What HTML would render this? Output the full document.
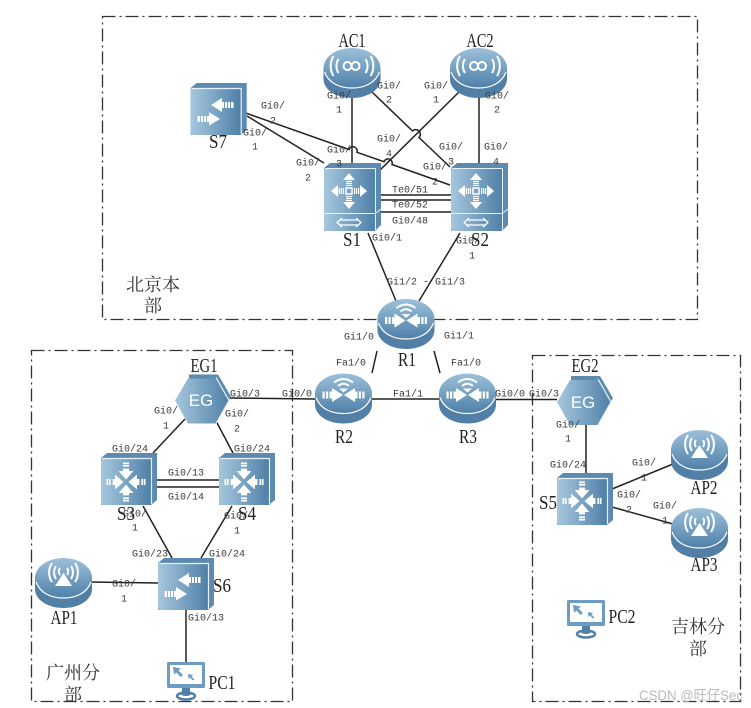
<!DOCTYPE html>
<html><head><meta charset="utf-8">
<style>
html,body{margin:0;padding:0;background:#fff;width:751px;height:708px;overflow:hidden}
svg{display:block;filter:blur(0.35px)}
.l{font-family:"Liberation Mono",monospace;font-size:10px;fill:#3a3a3a;text-anchor:middle}
.n{font-family:"Liberation Serif",serif;font-size:20px;fill:#222;text-anchor:middle}
.c{font-family:"Liberation Serif","Noto Serif CJK SC",serif;font-size:18px;fill:#333;text-anchor:middle}
.e{font-family:"Liberation Sans",sans-serif;font-size:17px;fill:#fff;text-anchor:middle}
.w{fill:none;stroke:#fff;stroke-width:2}
</style></head><body>
<svg width="751" height="708" viewBox="0 0 751 708" xmlns="http://www.w3.org/2000/svg">
<defs>
<linearGradient id="g" x1="0" x2="1" y1="0" y2="0"><stop offset="0" stop-color="#a6c7de"/><stop offset="1" stop-color="#4f80a8"/></linearGradient>
<linearGradient id="t" x1="0" x2="0" y1="0" y2="1"><stop offset="0" stop-color="#9cc0da"/><stop offset="1" stop-color="#4f80a8"/></linearGradient>
<g id="disc">
<path d="M0 19V31C0 42 13 50 28.500 50S57 42 57 31V19Z" fill="#527fa5"/>
<ellipse cx="28.500" cy="20" rx="28.500" ry="20" fill="url(#t)"/>
<path d="M1 24C5 35 16 40 28.500 40S52 35 56 24" fill="none" stroke="#fff" stroke-width="1.200"/>
</g>
<g id="sw">
<path d="M6 0H56V47L50 52H0V5Z" fill="#5c8ab0"/>
<rect x="0" y="5" width="50" height="47" rx="2" fill="url(#g)"/>
<path d="M1 5.500H50.500V51" fill="none" stroke="#e8f1f7" stroke-width="1.200"/>
</g>
<g id="arrows4" fill="#fff">
<path d="M0 0l-6 -7h3.500v-2h5v2h3.500z" transform="translate(0 -2)"/><rect x="-2.500" y="-16" width="5" height="1.400"/><rect x="-2.500" y="-14" width="5" height="1.400"/>
<path d="M0 0l-6 7h3.500v2h5v-2h3.500z" transform="translate(0 2)"/><rect x="-2.500" y="14.600" width="5" height="1.400"/><rect x="-2.500" y="12.600" width="5" height="1.400"/>
<path d="M0 0l-7 -6v3.500h-2v5h2v3.500z" transform="translate(-2 0)"/><rect x="-16" y="-2.500" width="1.400" height="5"/><rect x="-14" y="-2.500" width="1.400" height="5"/>
<path d="M0 0l7 -6v3.500h2v5h-2v3.500z" transform="translate(2 0)"/><rect x="14.600" y="-2.500" width="1.400" height="5"/><rect x="12.600" y="-2.500" width="1.400" height="5"/>
</g>
<g id="out1" fill="#fff">
<path d="M11 -6L18 0L11 6Z"/><rect x="9" y="-3" width="1.200" height="6"/><rect x="7" y="-3" width="1.200" height="6"/><rect x="5" y="-3" width="1.200" height="6"/>
</g>
<g id="out">
<use href="#out1"/>
<use href="#out1" transform="rotate(90)"/>
<use href="#out1" transform="rotate(180)"/>
<use href="#out1" transform="rotate(270)"/>
<rect x="-3" y="-3" width="6" height="6" fill="none" stroke="#fff" stroke-width="1.500"/>
</g>
<g id="arrows2" fill="#fff">
<path d="M-5 -6L6 -13V-9H8V-3H6V1Z"/><rect x="9" y="-9" width="2" height="6"/><rect x="12" y="-9" width="2" height="6"/><rect x="15" y="-9" width="2.500" height="6"/>
<path d="M4 8L-7 1V5H-9V11H-7V14.500Z"/><rect x="-12" y="5" width="2" height="6"/><rect x="-15" y="5" width="2" height="6"/><rect x="-18.500" y="5" width="2.500" height="6"/>
</g>
<g id="router">
<use href="#disc"/>
<g fill="#fff">
<path d="M28 21.500L17 14.500V18H14.500V25H17V28.500Z"/><rect x="11" y="18" width="2.200" height="7"/><rect x="7.500" y="18" width="2.200" height="7"/>
<path d="M29 21.500L40 14.500V18H42.500V25H40V28.500Z"/><rect x="43.800" y="18" width="2.200" height="7"/><rect x="47.300" y="18" width="2.200" height="7"/>
</g>
<path d="M19 9Q28.500 2 38 9M23 12.500Q28.500 8 34 12.500" class="w" stroke-width="1.500"/>
<path d="M24 15H33L28.500 19Z" fill="#fff"/>
</g>
<g id="ap">
<use href="#disc"/>
<path d="M28.500 15L37 28H20Z" fill="#fff"/>
<path d="M21 8A12 12 0 0 0 21 21M17 5A17 17 0 0 0 17 24M36 8A12 12 0 0 1 36 21M40 5A17 17 0 0 1 40 24M25 10A6 6 0 0 0 25 17M32 10A6 6 0 0 1 32 17" class="w" stroke-width="1.500"/>
</g>
<g id="ac">
<use href="#disc"/>
<path d="M20 18a4 4 0 0 1 8 0a4 4 0 0 0 8 0a4 4 0 0 0 -8 0a4 4 0 0 1 -8 0" class="w" stroke-width="2.500"/>
<path d="M15 11A13 13 0 0 0 15 25M10 8A19 19 0 0 0 10 28M42 11A13 13 0 0 1 42 25M47 8A19 19 0 0 1 47 28" class="w" stroke-width="1.800"/>
</g>
<g id="eg">
<path d="M14 0H43L56 22L43 44H14Z" fill="#5c8ab0"/>
<path d="M13 4H41L54 26L41 49H13L0 26Z" fill="url(#g)"/>
<path d="M41 3L54 26L41 49" fill="none" stroke="#e8f1f7" stroke-width="1.200"/>
</g>
<g id="pc">
<rect x="0" y="0" width="38" height="26" rx="1.500" fill="#6d9cc2"/>
<rect x="3" y="3" width="32" height="19" fill="#fff"/>
<path d="M6 5L14 6.500L11.500 8.500L16 13L13.500 15L9.500 10.500L7 12.500Z" fill="#6d9cc2"/>
<path d="M21 12L26 13L24.500 14.500L27.500 17.500L26 18.500L23 15.500L21.500 17Z" fill="#6d9cc2"/>
<path d="M15 26H23V31H15Z" fill="#527fa5"/>
<ellipse cx="19" cy="34" rx="9" ry="3.500" fill="none" stroke="#527fa5" stroke-width="2.500"/>
<ellipse cx="19" cy="32" rx="5" ry="2" fill="#527fa5"/>
</g>
</defs>

<g fill="none" stroke="#333" stroke-width="1.300" stroke-dasharray="13 4 2 4">
<rect x="102.500" y="16.500" width="595" height="303"/>
<rect x="31.500" y="350.500" width="261" height="351"/>
<rect x="532.500" y="355.500" width="208" height="346"/>
</g>

<g fill="none" stroke="#222" stroke-width="1.500">
<path d="M352 95V163M479 95V163"/>
<path d="M372 92L412.500 131A4 4 0 0 1 419 137.500L450 167"/>
<path d="M459 92L375 175"/>
<path d="M240 111L349 149.500A4 4 0 0 1 357 152.300L384 161.700A4 4 0 0 1 392 164.500L450 185"/>
<path d="M247 116L324 163"/>
<path d="M381 195H451M381 200H451M381 212H451"/>
<path d="M368 233L396 301M460 233L419 301"/>
<path d="M377 351L372 373M434 351L440 373"/>
<path d="M372 399H439M496 399.500H557M230 398L315 399"/>
<path d="M185 419L153 453M216 421L233 453"/>
<path d="M157 480H219M157 487H219"/>
<path d="M143 506L172 558M232 506L201 558"/>
<path d="M92 582L158 583M186 610V662"/>
<path d="M586 425V473M612 489L673 464M612 507L673 524"/>
</g>

<use href="#ac" x="323.500" y="48"/>
<use href="#ac" x="450" y="48"/>
<use href="#sw" x="190.700" y="83"/>
<use href="#arrows2" x="216" y="111"/>

<path d="M6 0H57V62L51 68H0V5Z" fill="#5c8ab0" transform="translate(324 163)"/>
<rect x="324" y="168" width="51" height="63" rx="2" fill="url(#g)"/>
<path d="M325 168.500H375.500V231M324 213.500H375L381 209" fill="none" stroke="#e8f1f7" stroke-width="1"/>
<use href="#out" x="349" y="191"/>
<path d="M339 220H359M339 225H359M342 218L337 222.500L342 227M356 218L361 222.500L356 227" fill="none" stroke="#fff" stroke-width="1.200"/>

<path d="M6 0H57V62L51 68H0V5Z" fill="#5c8ab0" transform="translate(451 163)"/>
<rect x="451" y="168" width="51" height="63" rx="2" fill="url(#g)"/>
<path d="M452 168.500H502.500V231M451 213.500H502L508 209" fill="none" stroke="#e8f1f7" stroke-width="1"/>
<use href="#out" x="476" y="191"/>
<path d="M466 220H486M466 225H486M469 218L464 222.500L469 227M483 218L488 222.500L483 227" fill="none" stroke="#fff" stroke-width="1.200"/>

<use href="#router" x="377.500" y="299"/>
<use href="#router" x="315" y="373.500"/>
<use href="#router" x="439" y="373.500"/>

<use href="#eg" x="175" y="374.500"/>
<text class="e" x="201" y="406">EG</text>
<use href="#eg" x="557" y="376"/>
<text class="e" x="583" y="408">EG</text>

<use href="#sw" x="101" y="453"/>
<use href="#arrows4" transform="translate(126 482) scale(1.220)"/>
<use href="#sw" x="219" y="453"/>
<use href="#arrows4" transform="translate(244 482) scale(1.220)"/>
<use href="#sw" x="158" y="558"/>
<use href="#arrows2" x="183" y="586"/>
<use href="#sw" x="557" y="473"/>
<use href="#arrows4" transform="translate(582 501) scale(1.220)"/>

<use href="#ap" x="35" y="558"/>
<use href="#ap" x="671" y="430"/>
<use href="#ap" x="671" y="508"/>
<use href="#pc" x="167" y="662"/>
<use href="#pc" x="567" y="600"/>

<text class="n" x="352" y="47" textLength="27" lengthAdjust="spacingAndGlyphs">AC1</text>
<text class="n" x="480" y="47" textLength="27" lengthAdjust="spacingAndGlyphs">AC2</text>
<text class="n" x="218" y="148" textLength="18" lengthAdjust="spacingAndGlyphs">S7</text>
<text class="n" x="352" y="246" textLength="18" lengthAdjust="spacingAndGlyphs">S1</text>
<text class="n" x="480" y="246" textLength="18" lengthAdjust="spacingAndGlyphs">S2</text>
<text class="n" x="407" y="366" textLength="18" lengthAdjust="spacingAndGlyphs">R1</text>
<text class="n" x="344" y="443" textLength="18" lengthAdjust="spacingAndGlyphs">R2</text>
<text class="n" x="468" y="443" textLength="18" lengthAdjust="spacingAndGlyphs">R3</text>
<text class="n" x="204" y="372" textLength="27" lengthAdjust="spacingAndGlyphs">EG1</text>
<text class="n" x="585" y="372" textLength="27" lengthAdjust="spacingAndGlyphs">EG2</text>
<text class="n" x="126" y="520" textLength="18" lengthAdjust="spacingAndGlyphs">S3</text>
<text class="n" x="247" y="520" textLength="18" lengthAdjust="spacingAndGlyphs">S4</text>
<text class="n" x="222" y="592" textLength="18" lengthAdjust="spacingAndGlyphs">S6</text>
<text class="n" x="548" y="509" textLength="18" lengthAdjust="spacingAndGlyphs">S5</text>
<text class="n" x="64" y="624" textLength="27" lengthAdjust="spacingAndGlyphs">AP1</text>
<text class="n" x="704" y="494" textLength="27" lengthAdjust="spacingAndGlyphs">AP2</text>
<text class="n" x="704" y="571" textLength="27" lengthAdjust="spacingAndGlyphs">AP3</text>
<text class="n" x="222" y="689" textLength="27" lengthAdjust="spacingAndGlyphs">PC1</text>
<text class="n" x="622" y="623" textLength="27" lengthAdjust="spacingAndGlyphs">PC2</text>

<text class="l" x="339" y="98.500">Gi0/</text><text class="l" x="339" y="112.500">1</text>
<text class="l" x="389" y="88.500">Gi0/</text><text class="l" x="389" y="102.500">2</text>
<text class="l" x="436" y="88.500">Gi0/</text><text class="l" x="436" y="102.500">1</text>
<text class="l" x="497" y="98.500">Gi0/</text><text class="l" x="497" y="112.500">2</text>
<text class="l" x="273" y="108.500">Gi0/</text><text class="l" x="273" y="123.500">2</text>
<text class="l" x="255" y="135.500">Gi0/</text><text class="l" x="255" y="149.500">1</text>
<text class="l" x="308" y="165.500">Gi0/</text><text class="l" x="308" y="180.500">2</text>
<text class="l" x="339" y="152.500">Gi0/</text><text class="l" x="339" y="166.500">3</text>
<text class="l" x="389" y="141.500">Gi0/</text><text class="l" x="389" y="156.500">4</text>
<text class="l" x="451" y="149.500">Gi0/</text><text class="l" x="451" y="164.500">3</text>
<text class="l" x="435" y="169.500">Gi0/</text><text class="l" x="435" y="184.500">2</text>
<text class="l" x="496" y="149.500">Gi0/</text><text class="l" x="496" y="164.500">4</text>
<text class="l" x="410" y="192.500">Te0/51</text>
<text class="l" x="410" y="207.500">Te0/52</text>
<text class="l" x="410" y="223.500">Gi0/48</text>
<text class="l" x="387" y="240.500">Gi0/1</text>
<text class="l" x="468" y="243.500">Gi0/</text><text class="l" x="472" y="258.500">1</text>
<text class="l" x="426" y="284.500">Gi1/2 - Gi1/3</text>
<text class="l" x="359" y="339.500">Gi1/0</text>
<text class="l" x="459" y="338.500">Gi1/1</text>
<text class="l" x="351" y="365.500">Fa1/0</text>
<text class="l" x="466" y="365.500">Fa1/0</text>
<text class="l" x="408" y="396.500">Fa1/1</text>
<text class="l" x="510" y="396.500">Gi0/0</text>
<text class="l" x="544" y="396.500">Gi0/3</text>
<text class="l" x="297" y="396.500">Gi0/0</text>
<text class="l" x="245" y="396.500">Gi0/3</text>
<text class="l" x="166" y="413.500">Gi0/</text><text class="l" x="166" y="428.500">1</text>
<text class="l" x="237" y="416.500">Gi0/</text><text class="l" x="237" y="431.500">2</text>
<text class="l" x="130" y="451.500">Gi0/24</text>
<text class="l" x="252" y="451.500">Gi0/24</text>
<text class="l" x="186" y="475.500">Gi0/13</text>
<text class="l" x="186" y="499.500">Gi0/14</text>
<text class="l" x="135" y="516.500">Gi0/</text><text class="l" x="135" y="530.500">1</text>
<text class="l" x="236" y="518.500">Gi0/</text><text class="l" x="237" y="533.500">1</text>
<text class="l" x="150" y="556.500">Gi0/23</text>
<text class="l" x="227" y="556.500">Gi0/24</text>
<text class="l" x="124" y="586.500">Gi0/</text><text class="l" x="124" y="601.500">1</text>
<text class="l" x="206" y="620.500">Gi0/13</text>
<text class="l" x="568" y="427.500">Gi0/</text><text class="l" x="568" y="441.500">1</text>
<text class="l" x="568" y="467.500">Gi0/24</text>
<text class="l" x="644" y="465.500">Gi0/</text><text class="l" x="644" y="480.500">1</text>
<text class="l" x="629" y="497.500">Gi0/</text><text class="l" x="629" y="512.500">2</text>
<text class="l" x="665" y="508.500">Gi0/</text><text class="l" x="665" y="523.500">1</text>

<text class="c" x="153" y="291">北京本</text>
<text class="c" x="153" y="312">部</text>
<text class="c" x="73" y="679">广州分</text>
<text class="c" x="73" y="701">部</text>
<text class="c" x="698" y="633">吉林分</text>
<text class="c" x="698" y="655">部</text>
<text x="639" y="700" font-family="'Liberation Sans','Noto Sans CJK SC',sans-serif" font-size="14" fill="#bbb" textLength="104" lengthAdjust="spacingAndGlyphs">CSDN @旺仔Sec</text>
</svg>
</body></html>
